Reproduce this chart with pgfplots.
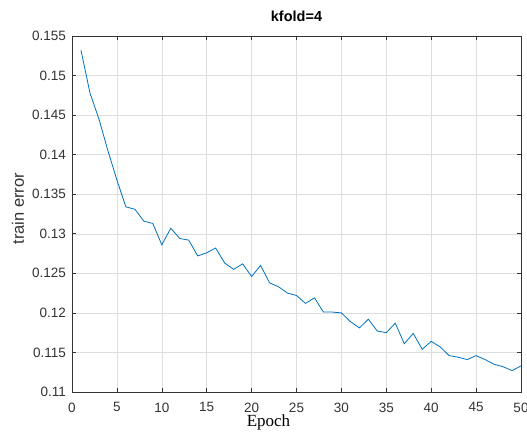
\documentclass[border=0pt]{standalone}
\usepackage{fontspec}
\setmainfont{Liberation Sans}
\newfontfamily\timesfont{Liberation Serif}
\usepackage{pgfplots}
\pgfplotsset{compat=1.18}
\usetikzlibrary{calc}
\definecolor{mblue}{rgb}{0,0.447,0.741}
\begin{document}
\begin{tikzpicture}
\begin{axis}[
    width=449pt, height=356pt, scale only axis,
    xmin=0, xmax=50, ymin=0.11, ymax=0.155,
    xtick={0,5,...,50},
    ytick={0.11,0.115,...,0.156},
    grid=major,
    grid style={color=black!13, line width=0.5pt},
    axis line style={color=black!80, line width=0.6pt},
    tick align=inside, tick pos=both,
    major tick length=4pt,
    every tick/.style={color=black!80, line width=0.6pt},
    /pgf/number format/assume math mode=true,
    yticklabel style={/pgf/number format/fixed, /pgf/number format/precision=3,
        anchor=east, inner sep=0pt, xshift=-6pt},
    xticklabel style={anchor=north, inner sep=0pt, yshift=-10.5pt},
    tick label style={font=\fontsize{13.5}{16}\selectfont, color=black!80},
    title={kfold=4},
    title style={font=\fontsize{14.5}{17}\selectfont\bfseries, at={(axis description cs:0.5,1)}, anchor=base, yshift=8pt, inner sep=0pt},
    xlabel={Epoch},
    xlabel style={font=\timesfont\fontsize{17}{20}\selectfont, at={(axis description cs:0.4376,0)}, anchor=base, yshift=-35pt, inner sep=0pt},
    ylabel={train error},
    ylabel style={font=\fontsize{16.5}{19}\selectfont, color=black!80, at={(axis description cs:-0.1203,0.515)}, anchor=center, inner sep=0pt},
]
\addplot[color=mblue, line width=0.8pt] coordinates {
    (1,0.1532) (2,0.1478) (3,0.1445) (4,0.1405) (5,0.1368) (6,0.1334)
    (7,0.1331) (8,0.1316) (9,0.1313) (10,0.1286) (11,0.1307) (12,0.1294)
    (13,0.1292) (14,0.1272) (15,0.1276) (16,0.1282) (17,0.1263) (18,0.1255)
    (19,0.1262) (20,0.1246) (21,0.1260) (22,0.1238) (23,0.1233) (24,0.1225)
    (25,0.1222) (26,0.1212) (27,0.1219) (28,0.1201) (29,0.1201) (30,0.1200)
    (31,0.1189) (32,0.1181) (33,0.1192) (34,0.1177) (35,0.1175) (36,0.1187)
    (37,0.1161) (38,0.1174) (39,0.1154) (40,0.1164) (41,0.1157) (42,0.1146)
    (43,0.1144) (44,0.1141) (45,0.1146) (46,0.1141) (47,0.1135) (48,0.1132)
    (49,0.1127) (50,0.1133)
};
\end{axis}
\pgfresetboundingbox
\path[use as bounding box] ($(current axis.south west)+(-72pt,-40pt)$) rectangle ($(current axis.north east)+(6pt,36pt)$);
\end{tikzpicture}
\end{document}
